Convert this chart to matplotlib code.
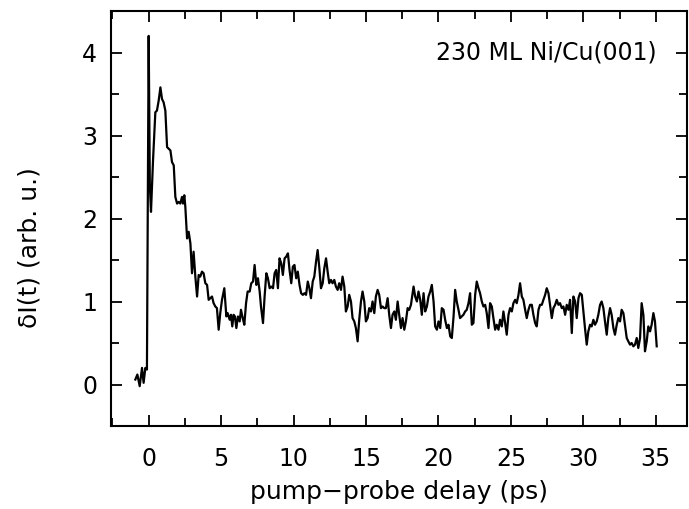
import matplotlib
matplotlib.use("Agg")
import matplotlib.pyplot as plt
from matplotlib.ticker import MultipleLocator

# delay (ps) and signal (arb. u.)
delay = [
    -0.92, -0.78, -0.62, -0.46, -0.35, -0.23, -0.12, 0.00, 0.08, 0.16, 0.30, 0.46,
    0.57, 0.69, 0.81, 0.92, 1.03, 1.15, 1.27, 1.38, 1.50, 1.61, 1.73, 1.84, 1.96,
    2.07, 2.18, 2.30, 2.37, 2.46, 2.53, 2.65, 2.76, 2.88, 2.99, 3.10, 3.22, 3.34,
    3.45, 3.56, 3.68, 3.79, 3.91, 4.03, 4.14, 4.25, 4.37, 4.48, 4.60, 4.71, 4.83,
    4.94, 5.06, 5.22, 5.36, 5.45, 5.59, 5.68, 5.77, 5.86, 5.95, 6.05, 6.16, 6.28,
    6.37, 6.49, 6.60, 6.72, 6.83, 6.97, 7.08, 7.20, 7.31, 7.43, 7.54, 7.66, 7.75,
    7.89, 8.00, 8.12, 8.23, 8.35, 8.46, 8.58, 8.69, 8.80, 8.92, 9.03, 9.15, 9.26,
    9.38, 9.49, 9.61, 9.72, 9.84, 9.95, 10.06, 10.18, 10.29, 10.41, 10.52, 10.64,
    10.75, 10.86, 10.98, 11.09, 11.20, 11.32, 11.43, 11.55, 11.66, 11.78, 11.89,
    12.01, 12.12, 12.24, 12.35, 12.46, 12.58, 12.69, 12.81, 12.92, 13.04, 13.15,
    13.27, 13.38, 13.50, 13.61, 13.73, 13.84, 13.96, 14.07, 14.19, 14.30, 14.42,
    14.53, 14.65, 14.76, 14.88, 14.99, 15.11, 15.22, 15.34, 15.45, 15.57, 15.68,
    15.80, 15.91, 16.03, 16.14, 16.26, 16.37, 16.49, 16.60, 16.72, 16.83, 16.95,
    17.06, 17.18, 17.29, 17.41, 17.52, 17.64, 17.75, 17.87, 17.98, 18.10, 18.28,
    18.39, 18.51, 18.62, 18.74, 18.85, 18.97, 19.08, 19.20, 19.31, 19.43, 19.54,
    19.66, 19.77, 19.89, 20.00, 20.12, 20.23, 20.35, 20.46, 20.58, 20.69, 20.81,
    20.92, 21.04, 21.15, 21.26, 21.38, 21.49, 21.61, 21.72, 21.84, 21.95, 22.07,
    22.18, 22.30, 22.41, 22.53, 22.64, 22.76, 22.87, 22.99, 23.10, 23.22, 23.33,
    23.45, 23.56, 23.68, 23.79, 23.91, 24.02, 24.14, 24.25, 24.37, 24.48, 24.60,
    24.71, 24.83, 24.94, 25.06, 25.17, 25.29, 25.40, 25.52, 25.63, 25.75, 25.86,
    25.98, 26.09, 26.21, 26.32, 26.44, 26.55, 26.67, 26.78, 26.90, 27.01, 27.13,
    27.24, 27.36, 27.47, 27.59, 27.70, 27.82, 27.93, 28.05, 28.16, 28.28, 28.39,
    28.51, 28.62, 28.74, 28.85, 28.97, 29.08, 29.20, 29.31, 29.43, 29.54, 29.66,
    29.77, 29.89, 30.00, 30.11, 30.23, 30.34, 30.46, 30.57, 30.69, 30.80, 30.92,
    31.03, 31.15, 31.26, 31.38, 31.49, 31.61, 31.72, 31.84, 31.95, 32.07, 32.18,
    32.30, 32.41, 32.53, 32.64, 32.76, 32.87, 32.99, 33.10, 33.22, 33.33, 33.45,
    33.56, 33.68, 33.79, 33.91, 34.02, 34.14, 34.25, 34.37, 34.48, 34.60, 34.71,
    34.83, 34.94, 35.06,
]
signal = [
    0.06, 0.12, -0.02, 0.20, 0.02, 0.20, 0.18, 4.20, 2.40, 2.08, 2.70, 3.28,
    3.30, 3.42, 3.58, 3.44, 3.40, 3.30, 2.86, 2.84, 2.82, 2.68, 2.64, 2.26, 2.18,
    2.20, 2.18, 2.26, 2.18, 2.28, 2.14, 1.76, 1.84, 1.70, 1.34, 1.60, 1.30, 1.06,
    1.32, 1.30, 1.36, 1.34, 1.22, 1.20, 1.02, 1.04, 1.06, 0.98, 0.94, 0.92, 0.66,
    0.86, 1.02, 1.16, 0.82, 0.86, 0.78, 0.84, 0.70, 0.84, 0.82, 0.68, 0.82, 0.76,
    0.90, 0.80, 0.72, 0.98, 1.12, 1.12, 1.22, 1.24, 1.44, 1.20, 1.28, 1.12, 0.94,
    0.74, 1.06, 1.34, 1.28, 1.16, 1.18, 1.16, 1.34, 1.38, 1.16, 1.52, 1.46, 1.32,
    1.52, 1.54, 1.58, 1.38, 1.22, 1.42, 1.44, 1.28, 1.36, 1.20, 1.10, 1.08,
    1.10, 1.08, 1.24, 1.16, 1.04, 1.24, 1.30, 1.48, 1.62, 1.40, 1.16,
    1.22, 1.40, 1.52, 1.36, 1.22, 1.26, 1.22, 1.26, 1.18, 1.14, 1.22,
    1.14, 1.30, 1.18, 0.88, 0.94, 1.08, 1.00, 0.80, 0.76, 0.68, 0.52,
    0.78, 1.00, 1.12, 1.00, 0.76, 0.80, 0.92, 0.88, 1.00, 0.86, 1.06,
    1.14, 1.08, 0.92, 0.94, 0.92, 0.92, 1.04, 0.84, 0.68, 0.84, 0.88,
    0.78, 1.00, 0.84, 0.68, 0.80, 0.66, 0.76, 0.92, 0.90, 0.96, 1.18,
    1.06, 1.00, 1.12, 1.02, 0.84, 1.10, 0.88, 0.94, 1.06, 1.12, 1.20,
    1.00, 0.70, 0.66, 0.76, 0.68, 0.92, 0.90, 0.78, 0.68, 0.72, 0.58,
    0.56, 0.82, 1.14, 1.00, 0.90, 0.80, 0.82, 0.84, 0.88, 0.90, 0.98,
    1.10, 0.72, 0.74, 1.08, 1.24, 1.16, 1.10, 1.00, 0.94, 0.96, 0.86,
    0.68, 0.98, 0.94, 0.80, 0.66, 0.72, 0.66, 0.78, 0.70, 0.88, 0.74,
    0.60, 0.84, 0.92, 0.88, 0.98, 1.02, 0.98, 1.08, 1.22, 1.06, 1.02,
    0.90, 0.80, 0.90, 0.96, 0.96, 0.84, 0.74, 0.70, 0.90, 0.96, 0.96,
    1.02, 1.08, 1.16, 1.10, 0.96, 0.80, 0.92, 0.96, 1.02, 0.96, 0.98,
    0.92, 0.94, 0.84, 0.96, 0.90, 1.02, 0.62, 1.06, 1.00, 0.80, 1.04,
    1.10, 1.08, 0.88, 0.68, 0.48, 0.64, 0.72, 0.70, 0.78, 0.72, 0.76,
    0.84, 0.96, 1.00, 0.92, 0.76, 0.60, 0.80, 0.92, 0.84, 0.68, 0.60,
    0.72, 0.80, 0.76, 0.90, 0.86, 0.72, 0.56, 0.52, 0.48, 0.50, 0.46,
    0.48, 0.56, 0.44, 0.56, 0.98, 0.84, 0.40, 0.52, 0.70, 0.64, 0.72,
    0.86, 0.76, 0.46,
]

plt.rcParams['font.family'] = ['DejaVu Sans']

fig = plt.figure(figsize=(6.89, 5.09), dpi=100)
ax = fig.add_axes([111/689, 1 - 426/509, 576/689, 415/509])

ax.plot(delay, signal, color='black', linewidth=1.6)

ax.set_xlim(-2.6, 37.15)
ax.set_ylim(-0.5, 4.5)
ax.xaxis.set_major_locator(MultipleLocator(5))
ax.xaxis.set_minor_locator(MultipleLocator(2.5))
ax.yaxis.set_major_locator(MultipleLocator(1))
ax.yaxis.set_minor_locator(MultipleLocator(0.5))
ax.tick_params(which='both', direction='in', top=True, right=True,
               width=1.3, labelsize=17)
ax.tick_params(which='major', length=8)
ax.tick_params(which='minor', length=6)
ax.tick_params(axis='x', which='major', pad=15)
ax.tick_params(axis='y', which='major', pad=10)
for s in ax.spines.values():
    s.set_linewidth(1.5)

ax.set_xlabel('pump\u2212probe delay (ps)', fontsize=18)
ax.xaxis.set_label_coords(0.5, -0.13)
ax.set_ylabel('\u03b4I(t) (arb. u.)', fontsize=18)
ax.yaxis.set_label_coords(-0.12, 0.43)

ax.text(0.948, 0.901, '230 ML Ni/Cu(001)', transform=ax.transAxes,
        ha='right', va='center', fontsize=17)

fig.savefig('out.png', dpi=100)
